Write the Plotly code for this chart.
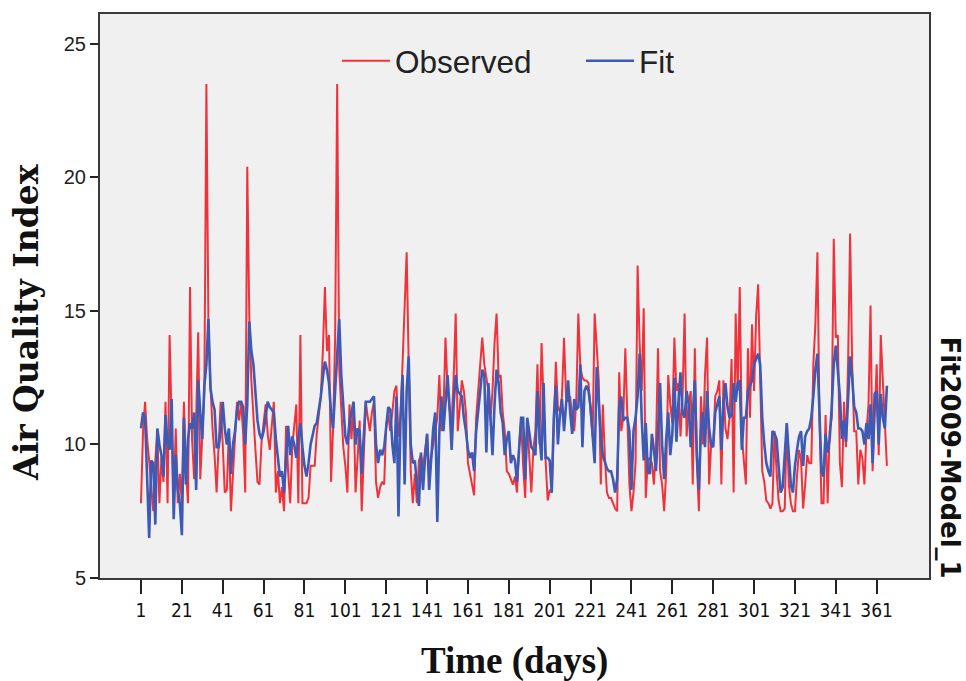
import plotly.graph_objects as go

# ---- data ----
obs_1_62 = [7.8, 10.5, 11.6, 10.2, 9.4, 8.5, 7.5, 9.4, 10.5, 7.8,
            9.5, 8.6, 11.6, 7.8, 14.1, 10.8, 7.8, 10.6, 7.8, 8.9,
            7.8, 11.6, 9.0, 7.8, 15.9, 10.2, 8.7, 11.0, 14.2, 8.7,
            10.2, 12.0, 23.5, 14.5, 12.2, 10.6, 9.6, 8.2, 10.0, 11.6,
            10.0, 8.2, 8.3, 10.5, 7.5, 9.0, 10.4, 11.6, 10.9, 11.6,
            10.4, 8.2, 20.4, 14.8, 12.4, 10.9, 9.8, 8.6, 8.5, 10.1,
            10.8, 11.5]
obs_63_122 = [10.4, 9.8, 10.7, 11.6, 8.2, 9.0, 7.8, 8.4, 7.5, 10.7,
              9.0, 7.8, 9.9, 10.6, 11.5, 7.8, 14.1, 7.8, 7.8, 7.8,
              8.0, 9.2, 9.2, 9.2, 10.4, 11.0, 11.8, 13.5, 15.9, 13.5,
              14.1, 8.6, 10.6, 14.0, 23.5, 12.8, 11.2, 9.9, 9.2, 8.2,
              11.5, 10.2, 11.6, 8.2, 9.5, 10.9, 7.5, 9.5, 11.6, 11.0,
              10.5, 11.2, 11.6, 8.6, 8.0, 8.4, 8.6, 8.5, 10.8, 11.1]
obs_123_183 = [10.5, 11.2, 12.0, 12.2, 10.3, 11.0, 13.0, 15.0, 17.2, 13.0,
               9.0, 7.8, 8.9, 7.8, 9.4, 9.6, 9.1, 9.8, 10.4, 9.0,
               9.5, 10.1, 10.6, 11.0, 12.6, 10.5, 11.2, 14.0, 12.1, 11.3,
               10.8, 12.5, 14.9, 10.5, 11.4, 12.4, 12.0, 11.2, 9.3, 8.9,
               8.6, 8.1, 11.0, 12.0, 13.2, 14.0, 13.0, 12.5, 12.0, 10.9,
               12.0, 13.8, 14.9, 12.5, 12.6, 11.2, 10.5, 9.0, 8.9, 8.7,
               8.5]
obs_184_244 = [8.8, 8.2, 9.9, 10.9, 9.2, 8.0, 10.9, 9.5, 8.2, 9.8,
               10.5, 13.0, 10.0, 13.8, 11.2, 9.4, 7.9, 8.3, 8.2, 11.0,
               13.1, 11.4, 11.2, 11.8, 14.0, 11.8, 11.6, 11.8, 11.0, 10.5,
               11.6, 14.9, 12.9, 12.5, 12.4, 12.4, 12.3, 11.2, 10.3, 14.9,
               13.5, 12.4, 8.5, 11.5, 9.5, 8.2, 8.0, 8.0, 7.8, 7.6,
               7.5, 12.7, 10.5, 11.0, 13.6, 11.0, 8.5, 7.5, 8.2, 9.3,
               16.7]
obs_245_305 = [13.8, 12.0, 15.1, 8.0, 9.4, 9.5, 9.3, 8.5, 10.0, 13.6,
               9.0, 8.5, 7.5, 9.0, 12.6, 11.5, 10.8, 14.0, 12.0, 12.3,
               10.3, 11.8, 14.9, 10.3, 11.5, 12.0, 8.5, 13.6, 9.3, 7.5,
               11.8, 10.0, 12.6, 14.0, 8.5, 10.0, 10.0, 11.8, 12.0, 12.4,
               8.5, 12.4, 10.6, 10.2, 11.0, 13.2, 8.2, 14.9, 12.0, 15.9,
               10.3, 9.5, 8.5, 13.6, 11.0, 14.5, 12.0, 14.8, 16.0, 12.5,
               9.0]
obs_306_366 = [8.6, 7.9, 7.8, 7.6, 7.8, 10.5, 9.0, 7.9, 7.5, 7.5,
               7.6, 10.8, 8.5, 7.8, 7.5, 7.5, 8.8, 9.8, 9.4, 7.6,
               8.5, 9.6, 9.3, 9.3, 13.0, 14.5, 17.2, 11.0, 7.8, 7.8,
               11.1, 7.8, 10.5, 11.0, 17.7, 14.0, 14.1, 9.3, 8.4, 11.6,
               9.9, 13.0, 17.9, 13.0, 10.5, 10.5, 8.5, 9.8, 9.5, 8.5,
               10.5, 11.5, 15.2, 9.0, 11.0, 13.0, 9.6, 14.1, 12.4, 11.0,
               9.2]

fit_1_62 = [10.6, 11.2, 11.0, 8.5, 6.5, 9.4, 9.3, 7.0, 10.6, 10.0,
            9.6, 8.8, 11.1, 10.0, 9.8, 11.7, 7.2, 9.6, 8.3, 7.8,
            6.6, 11.0, 8.5, 10.2, 10.8, 10.6, 11.2, 8.3, 12.4, 11.2,
            10.2, 12.2, 13.0, 14.7, 12.1, 11.6, 11.3, 9.9, 9.9, 10.5,
            11.6, 10.6, 10.0, 10.6, 8.9, 10.0, 10.5, 11.3, 11.6, 11.6,
            11.4, 10.0, 11.5, 14.6, 13.5, 13.0, 12.0, 10.9, 10.4, 10.2,
            10.5, 11.0]
fit_63_122 = [11.6, 11.4, 11.3, 11.2, 10.2, 9.5, 8.8, 9.0, 8.2, 9.5,
              10.7, 9.6, 10.3, 10.0, 9.5, 10.2, 10.8, 9.9, 9.2, 8.8,
              9.3, 10.0, 10.4, 10.7, 10.8, 11.3, 11.8, 12.5, 13.1, 12.8,
              12.3, 11.2, 10.6, 12.0, 13.5, 14.7, 12.6, 11.6, 10.3, 10.0,
              10.8, 11.2, 11.6, 10.0, 10.6, 10.5, 8.9, 10.3, 11.6, 11.6,
              11.6, 11.7, 11.8, 10.0, 9.3, 9.8, 9.6, 9.9, 10.8, 11.4]
fit_123_183 = [11.3, 10.0, 9.3, 11.8, 7.3, 11.0, 12.6, 8.5, 12.0, 13.3,
               10.0, 9.3, 9.4, 8.6, 7.7, 9.7, 8.3, 9.5, 10.4, 8.3,
               9.7, 10.6, 11.2, 7.1, 10.5, 11.8, 10.5, 11.5, 12.6, 11.4,
               9.8, 11.5, 12.6, 12.0, 11.9, 11.8, 11.0, 10.5, 9.8, 9.5,
               9.7, 9.0, 10.5, 11.4, 12.0, 12.8, 12.6, 9.7, 12.3, 11.0,
               9.6, 11.5, 12.8, 12.3, 11.2, 10.8, 9.6, 10.2, 10.5, 9.3,
               9.6]
fit_184_244 = [9.4, 8.6, 9.8, 11.0, 11.0, 8.7, 11.0, 10.5, 9.9, 9.8,
               9.6, 12.0, 10.3, 9.4, 12.3, 9.5, 9.5, 9.4, 8.2, 11.0,
               12.2, 10.0, 11.1, 11.7, 10.5, 11.5, 12.4, 11.2, 10.4, 11.7,
               11.3, 11.4, 13.0, 9.9, 12.0, 12.2, 12.0, 11.4, 10.5, 9.3,
               12.9, 11.6, 10.3, 9.6, 9.3, 9.1, 9.0, 9.0, 8.7, 8.2,
               8.7, 11.4, 11.8, 10.9, 11.0, 11.0, 10.5, 8.3, 10.5, 11.0,
               11.8]
fit_245_305 = [13.4, 11.0, 9.4, 10.8, 9.0, 8.9, 10.4, 9.8, 9.0, 10.5,
               12.3, 10.0, 8.7, 10.2, 11.2, 9.6, 10.4, 12.5, 10.1, 11.6,
               12.7, 11.2, 11.0, 12.0, 11.5, 9.9, 11.3, 12.4, 9.6, 8.3,
               10.5, 11.2, 9.9, 12.0, 10.6, 10.0, 9.9, 11.2, 11.5, 11.8,
               9.8, 11.5, 12.3, 11.4, 11.0, 11.1, 12.3, 11.6, 12.3, 12.4,
               9.8, 11.0, 11.0, 12.0, 12.2, 12.4, 13.0, 13.2, 13.4, 13.0,
               11.0]
fit_306_366 = [10.0, 9.3, 9.0, 8.8, 10.5, 10.4, 10.2, 9.3, 8.2, 8.4,
               9.7, 10.8, 9.6, 8.5, 8.2, 9.2, 9.8, 10.3, 10.5, 9.2,
               10.3, 10.5, 10.6, 11.0, 11.8, 12.8, 13.4, 11.5, 9.0, 8.8,
               10.4, 9.7, 10.2, 11.4, 13.0, 13.7, 12.6, 11.8, 10.2, 10.9,
               10.1, 11.8, 13.3, 12.5, 11.4, 11.2, 10.6, 10.6, 10.5, 10.0,
               10.8, 10.2, 11.5, 9.3, 11.9, 12.0, 10.0, 11.9, 11.0, 10.6,
               12.2]

observed = obs_1_62 + obs_63_122 + obs_123_183 + obs_184_244 + obs_245_305 + obs_306_366
fit = fit_1_62 + fit_63_122 + fit_123_183 + fit_184_244 + fit_245_305 + fit_306_366
assert len(observed) == 366, len(observed)
assert len(fit) == 366, len(fit)
days = list(range(1, len(observed) + 1))

x_ticks = list(range(1, 362, 20))
y_ticks = [5, 10, 15, 20, 25]

RED = "#F0323C"
BLUE = "#3D5AB4"

fig = go.Figure()
fig.add_trace(go.Scatter(x=days, y=observed, mode="lines", name="Observed",
                         line=dict(color=RED, width=2)))
fig.add_trace(go.Scatter(x=days, y=fit, mode="lines", name="Fit",
                         line=dict(color=BLUE, width=2.6)))

L, R, T, B = 100, 929, 12, 578
W, H = 966, 681

def px(X):
    return (X - L) / (R - L)

def py(Y):
    return (B - Y) / (B - T)

fig.update_layout(
    width=W, height=H,
    margin=dict(l=L, r=W - R, t=T, b=H - B, pad=0),
    paper_bgcolor="white",
    plot_bgcolor="#F0F0F0",
    showlegend=True,
    legend=dict(orientation="h", x=px(337), xanchor="left", y=py(59), yanchor="middle",
                bgcolor="rgba(0,0,0,0)", borderwidth=0,
                font=dict(family="Liberation Sans, Arial, sans-serif", size=31.5, color="#222222"),
                entrywidth=181, entrywidthmode="pixels", itemwidth=48),
    xaxis=dict(range=[-19.06, 386.6], tickmode="array", tickvals=x_ticks,
               ticktext=[str(v) for v in x_ticks],
               ticks="outside", ticklen=14, tickwidth=1.5, tickcolor="#222222",
               showgrid=False, zeroline=False,
               showline=True, linecolor="#3A3A3A", linewidth=2, mirror=True,
               tickfont=dict(family="Liberation Sans Narrow, Arial Narrow, DejaVu Sans Condensed, sans-serif",
                             size=19, color="#111111")),
    yaxis=dict(range=[5, 26.12], tickmode="array", tickvals=y_ticks,
               ticks="outside", ticklen=8, tickwidth=1.5, tickcolor="#222222",
               showgrid=False, zeroline=False,
               showline=True, linecolor="#3A3A3A", linewidth=2, mirror=True,
               tickfont=dict(family="Liberation Sans, Arial, sans-serif", size=20, color="#222222")),
    annotations=[
        dict(text="<b>Air Quality Index</b>", xref="paper", yref="paper",
             x=px(27), y=py(322), xanchor="center", yanchor="middle", textangle=-90,
             showarrow=False,
             font=dict(family="DejaVu Serif, Liberation Serif, serif", size=33, color="#111111")),
        dict(text="<b>Time (days)</b>", xref="paper", yref="paper",
             x=px(514), y=py(661), xanchor="center", yanchor="middle",
             showarrow=False,
             font=dict(family="Liberation Serif, Times New Roman, serif", size=37, color="#111111")),
        dict(text="<b>Fit2009-Model_1</b>", xref="paper", yref="paper",
             x=px(950), y=py(457), xanchor="center", yanchor="middle", textangle=90,
             showarrow=False,
             font=dict(family="DejaVu Sans, Liberation Sans, sans-serif", size=26, color="#111111")),
    ],
)

fig.write_html("out.html", config={"displayModeBar": False},
               post_script="document.body.style.margin='0';")
